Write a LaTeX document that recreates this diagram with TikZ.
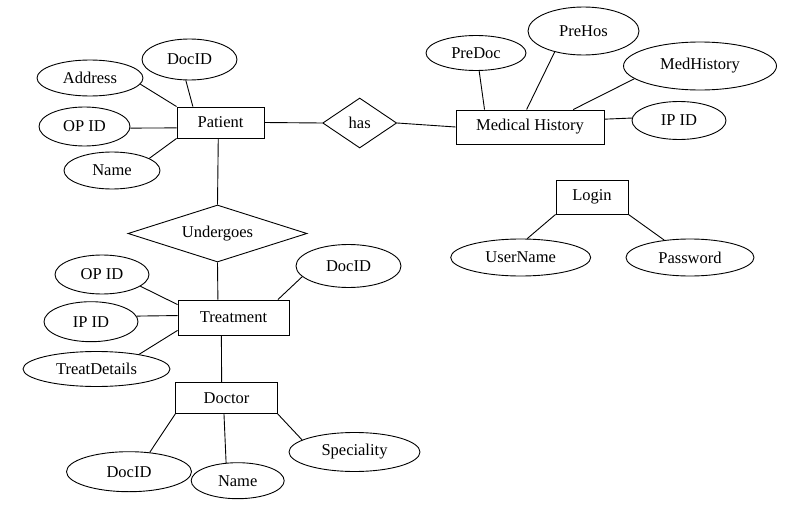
\documentclass[tikz,border=0pt]{standalone}
\usepackage{fontspec}
\setmainfont{Liberation Serif}
\usetikzlibrary{shapes.geometric}
\begin{document}
\begin{tikzpicture}[x=1pt,y=-1pt,line width=0.9pt,
  every node/.style={font=\fontsize{16.5}{19}\selectfont},
  ent/.style={draw,rectangle,inner sep=0pt},
  attr/.style={draw,ellipse,inner sep=0pt},
  rel/.style={draw,diamond,inner sep=0pt}]
\useasboundingbox[fill=white] (0,0) rectangle (788,506);
% Patient
\node[ent,minimum width=87pt,minimum height=31pt] (patient) at (220.5,122.5) {Patient};
\node[attr,minimum width=95pt,minimum height=41pt] (pdoc) at (189.5,59.5) {DocID};
\node[attr,minimum width=106pt,minimum height=36pt] (paddr) at (90,78) {Address};
\node[attr,minimum width=91pt,minimum height=39pt] (popid) at (84.5,126.5) {OP ID};
\node[attr,minimum width=96pt,minimum height=37pt] (pname) at (112,170.5) {Name};
\draw (paddr.-7) -- (patient.north west);
\draw (pdoc.-100) -- (patient.150);
\draw (popid.-2) -- (patient.187);
\draw (pname.18) -- (patient.south west);
% has
\node[rel,minimum width=74pt,minimum height=50pt,aspect=1.48] (has) at (359.7,123) {has};
\draw (patient.east) -- (has.west);
% Medical History
\node[ent,minimum width=148pt,minimum height=34pt] (mh) at (530,127) {Medical History};
\draw (has.east) -- (mh.west);
\node[attr,minimum width=100pt,minimum height=35pt] (predoc) at (476,53) {\raisebox{-3pt}{PreDoc}};
\node[attr,minimum width=111pt,minimum height=48pt] (prehos) at (583.5,31) {PreHos};
\node[attr,minimum width=153pt,minimum height=48pt] (medhist) at (700,66) {MedHistory};
\node[attr,minimum width=94pt,minimum height=38pt] (mhipid) at (679,120.5) {IP ID};
\draw (predoc.-80) -- (mh.159);
\draw (prehos.216) -- (mh.101);
\draw (medhist.191) -- (mh.22);
\draw (mh.6) -- (mhipid.177);
% Login
\node[ent,minimum width=72pt,minimum height=34pt] (login) at (592,197) {Login};
\node[attr,minimum width=140pt,minimum height=37pt] (uname) at (520.7,257.5) {UserName};
\node[attr,minimum width=128pt,minimum height=37pt] (pwd) at (690,257.5) {Password};
\draw (login.south west) -- (uname.71);
\draw (login.south east) -- (pwd.146);
% Undergoes
\node[rel,minimum width=179pt,minimum height=57pt,aspect=3.14] (under) at (217.5,233.5) {Undergoes};
\draw (patient.262) -- (under.north);
% Treatment
\node[ent,minimum width=111pt,minimum height=35pt] (treat) at (233.5,317.5) {Treatment};
\draw (under.south) -- (treat.131.5);
\node[attr,minimum width=94pt,minimum height=39pt] (topid) at (102,274.5) {OP ID};
\node[attr,minimum width=105pt,minimum height=43pt] (tdoc) at (348.5,266) {DocID};
\node[attr,minimum width=94pt,minimum height=40pt] (tipid) at (91,321.7) {IP ID};
\node[attr,minimum width=147pt,minimum height=35pt] (tdet) at (96.5,369) {TreatDetails};
\draw (topid.-17) -- (treat.167);
\draw (tipid.7) -- (treat.178);
\draw (tdet.19) -- (treat.193);
\draw (tdoc.193) -- (treat.22);
% Doctor
\node[ent,minimum width=101.6pt,minimum height=31pt] (doctor) at (226.5,398) {Doctor};
\draw (treat.236) -- (doctor.107);
\node[attr,minimum width=125pt,minimum height=40pt] (ddoc) at (129,471.7) {DocID};
\node[attr,minimum width=93pt,minimum height=36pt] (dname) at (237.7,480.7) {Name};
\node[attr,minimum width=131pt,minimum height=39pt] (dspec) at (354.5,452) {Speciality};
\draw (doctor.south west) -- (ddoc.43);
\draw (doctor.261) -- (dname.123);
\draw (doctor.south east) -- (dspec.167);
\end{tikzpicture}
\end{document}
